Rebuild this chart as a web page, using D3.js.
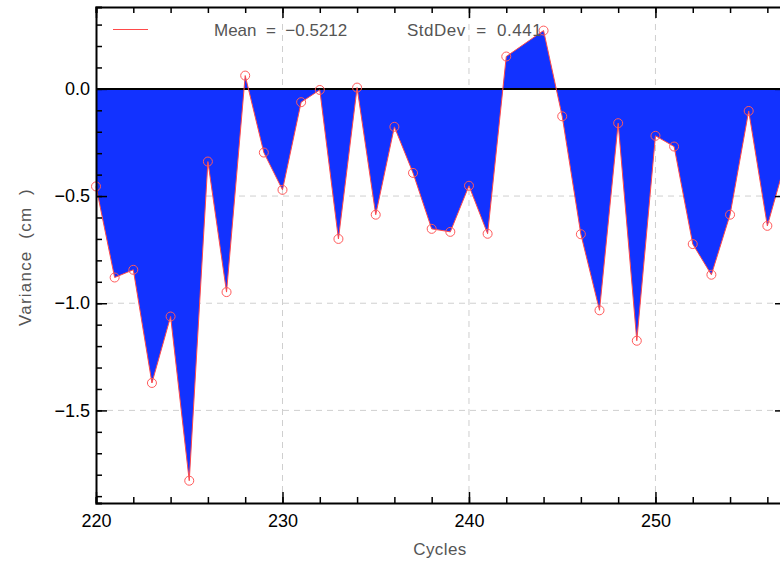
<!DOCTYPE html>
<html>
<head>
<meta charset="utf-8">
<script src="https://cdn.jsdelivr.net/npm/d3@7"></script>
<style>
  body { margin: 0; background: #fff; }
  svg { display: block; font-family: "Liberation Sans", Arial, sans-serif; }
</style>
</head>
<body>
<div id="chart"></div>
<script>
// cycle numbers (243 has no sample)
const cycles = [220, 221, 222, 223, 224, 225, 226, 227, 228, 229,
                230, 231, 232, 233, 234, 235, 236, 237, 238, 239,
                240, 241, 242, 244, 245, 246, 247, 248, 249,
                250, 251, 252, 253, 254, 255, 256, 257];
const variance = [-0.455, -0.880, -0.844, -1.372, -1.062, -1.828, -0.339, -0.948, 0.062, -0.297,
                  -0.471, -0.062, -0.005, -0.700, 0.006, -0.587, -0.177, -0.392, -0.653, -0.667,
                  -0.452, -0.676, 0.151, 0.272, -0.128, -0.678, -1.033, -0.160, -1.175,
                  -0.219, -0.269, -0.724, -0.867, -0.587, -0.103, -0.639, -0.33];
const xMajorTicks = [220, 230, 240, 250];
const yMajorTicks = [0.0, -0.5, -1.0, -1.5];
const meanLabel = "Mean  =  \u22120.5212";
const stdLabel = "StdDev  =  0.441";

const width = 780, height = 562;
const margin = {top: 7, right: -6, bottom: 59, left: 96};

const data = cycles.map((c, i) => ({x: c, y: variance[i]}));

const svg = d3.select("#chart").append("svg")
    .attr("width", width)
    .attr("height", height);

const x = d3.scaleLinear()
    .domain([220, 257])
    .range([margin.left, width - margin.right]);

const y = d3.scaleLinear()
    .domain([-1.932, 0.382])
    .range([height - margin.bottom, margin.top]);

// dashed grid at major ticks
svg.append("g")
    .selectAll("line")
    .data(xMajorTicks.slice(1))
    .join("line")
    .attr("x1", d => x(d)).attr("x2", d => x(d))
    .attr("y1", y.range()[0]).attr("y2", y.range()[1])
    .attr("stroke", "#cfcfcf")
    .attr("stroke-dasharray", "6,5");

svg.append("g")
    .selectAll("line")
    .data(yMajorTicks.slice(1))
    .join("line")
    .attr("x1", x.range()[0]).attr("x2", x.range()[1])
    .attr("y1", d => y(d)).attr("y2", d => y(d))
    .attr("stroke", "#cfcfcf")
    .attr("stroke-dasharray", "6,5");

// filled area to zero
const area = d3.area()
    .x(d => x(d.x))
    .y0(y(0))
    .y1(d => y(d.y));

svg.append("path")
    .datum(data)
    .attr("d", area)
    .attr("fill", "#1232ff");

// zero line
svg.append("line")
    .attr("x1", x.range()[0]).attr("x2", x.range()[1])
    .attr("y1", y(0)).attr("y2", y(0))
    .attr("stroke", "#000")
    .attr("stroke-width", 2);

const line = d3.line()
    .x(d => x(d.x))
    .y(d => y(d.y));

svg.append("path")
    .datum(data)
    .attr("d", line)
    .attr("fill", "none")
    .attr("stroke", "#ff4a4a")
    .attr("stroke-width", 1);

svg.append("g")
    .selectAll("circle")
    .data(data)
    .join("circle")
    .attr("cx", d => x(d.x))
    .attr("cy", d => y(d.y))
    .attr("r", 4.5)
    .attr("fill", "none")
    .attr("stroke", "#ff5a5a")
    .attr("stroke-width", 1);

// axes, ticks pointing inward
const xMinor = d3.range(220, 258, 2);
const yMinor = d3.range(-19, 4).map(d => d / 10);

function styleAxis(g) {
    g.select(".domain").attr("stroke-width", 2);
    g.selectAll(".tick line").attr("stroke-width", 1.5);
    g.selectAll(".tick text").attr("font-size", 18).attr("fill", "#000");
}

const yBottom = y.range()[0], yTop = y.range()[1];
const xLeft = x.range()[0], xRight = x.range()[1];

svg.append("g")
    .attr("transform", `translate(0,${yBottom})`)
    .call(d3.axisBottom(x).tickValues(xMinor).tickSize(-6).tickFormat(""))
    .call(styleAxis);
svg.append("g")
    .attr("transform", `translate(0,${yBottom})`)
    .call(d3.axisBottom(x).tickValues(xMajorTicks).tickSizeInner(-11).tickSizeOuter(0).tickPadding(11).tickFormat(d3.format("d")))
    .call(styleAxis)
    .call(g => g.select(".domain").remove());

svg.append("g")
    .attr("transform", `translate(0,${yTop})`)
    .call(d3.axisTop(x).tickValues(xMinor).tickSize(-6).tickFormat(""))
    .call(styleAxis);
svg.append("g")
    .attr("transform", `translate(0,${yTop})`)
    .call(d3.axisTop(x).tickValues(xMajorTicks).tickSizeInner(-11).tickSizeOuter(0).tickFormat(""))
    .call(styleAxis)
    .call(g => g.select(".domain").remove());

svg.append("g")
    .attr("transform", `translate(${xLeft},0)`)
    .call(d3.axisLeft(y).tickValues(yMinor).tickSize(-6).tickFormat(""))
    .call(styleAxis);
svg.append("g")
    .attr("transform", `translate(${xLeft},0)`)
    .call(d3.axisLeft(y).tickValues(yMajorTicks).tickSizeInner(-11).tickSizeOuter(0).tickPadding(6)
        .tickFormat(d => d3.format(".1f")(d).replace("-", "\u2212")))
    .call(styleAxis)
    .call(g => g.select(".domain").remove())
    .call(g => g.selectAll(".tick text").attr("x", -6));

svg.append("g")
    .attr("transform", `translate(${xRight},0)`)
    .call(d3.axisRight(y).tickValues(yMinor).tickSize(-6).tickFormat(""))
    .call(styleAxis);
svg.append("g")
    .attr("transform", `translate(${xRight},0)`)
    .call(d3.axisRight(y).tickValues(yMajorTicks).tickSizeInner(-11).tickSizeOuter(0).tickFormat(""))
    .call(styleAxis)
    .call(g => g.select(".domain").remove());

// axis titles
svg.append("text")
    .attr("x", 440)
    .attr("y", 555)
    .attr("text-anchor", "middle")
    .attr("font-size", 17)
    .attr("fill", "#555")
    .attr("letter-spacing", 0.4)
    .text("Cycles");

svg.append("text")
    .attr("transform", "translate(31,257) rotate(-90)")
    .attr("text-anchor", "middle")
    .attr("font-size", 17)
    .attr("fill", "#555")
    .attr("letter-spacing", 1.2)
    .style("white-space", "pre")
    .text("Variance  (cm  )");

// legend
svg.append("line")
    .attr("x1", 113).attr("x2", 148)
    .attr("y1", 29.5).attr("y2", 29.5)
    .attr("stroke", "#ff4a4a")
    .attr("stroke-width", 1);

svg.append("text")
    .attr("x", 214)
    .attr("y", 36)
    .attr("font-size", 17)
    .attr("fill", "#555")
    .style("white-space", "pre")
    .text(meanLabel);

svg.append("text")
    .attr("x", 407)
    .attr("y", 36)
    .attr("font-size", 17)
    .attr("fill", "#555")
    .attr("letter-spacing", 0.5)
    .style("white-space", "pre")
    .text(stdLabel);
</script>
</body>
</html>
